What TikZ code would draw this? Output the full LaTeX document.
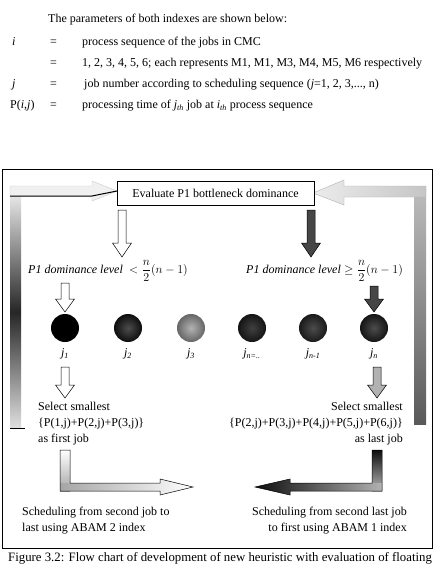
\documentclass[tikz,border=0pt]{standalone}
\usepackage{fontspec}
\setmainfont{Liberation Serif}
\usetikzlibrary{calc}
\newcommand{\subit}[2]{\textit{#1}\textsubscript{\textit{#2}}}
\newcommand{\DownArr}[5]{% x, ytop, headstart, ybot, style
  \path[#5] (#1-4,#2) -- (#1+4,#2) -- (#1+4,#3) -- (#1+9.5,#3) -- (#1,#4) -- (#1-9.5,#3) -- (#1-4,#3) -- cycle;}
\begin{document}
\begin{tikzpicture}[x=1pt,y=-1pt,
  txt/.style={font=\fontsize{12}{14}\selectfont, inner sep=0pt},
  hdr/.style={font=\fontsize{12}{14}\selectfont, inner sep=0pt, anchor=base west},
  evalbox/.style={draw, line width=0.6pt, minimum width=197pt, minimum height=24pt, inner sep=0pt, font=\fontsize{12}{14}\selectfont},
  ball/.style={circle, minimum size=28pt, inner sep=0pt},
  lightarr/.style={draw=black, line width=0.5pt, fill=white},
  darkarr/.style={draw=black, line width=0.5pt, fill=gray!55!black},
  midarr/.style={draw=black, line width=0.5pt, fill=gray!60}
]
\useasboundingbox (0,0) rectangle (436,564);
\fill[white] (0,0) rectangle (436,564);

% header definitions
\node[hdr] (h0) at (48,23) {The parameters of both indexes are shown below:};
\node[hdr] (h1a) at (12,46) {\textit{i}};
\node[hdr] (h1b) at (50,46) {=};
\node[hdr] (h1c) at (82,46) {process sequence of the jobs in CMC};
\node[hdr] (h2b) at (50,67) {=};
\node[hdr] (h2c) at (82,67) {1, 2, 3, 4, 5, 6; each represents M1, M1, M3, M4, M5, M6 respectively};
\node[hdr] (h3a) at (12,88) {\textit{j}};
\node[hdr] (h3b) at (50,88) {=};
\node[hdr] (h3c) at (84,88) {job number according to scheduling sequence (\textit{j}=1, 2, 3,..., n)};
\node[hdr] (h4a) at (10,109) {P(\textit{i},\textit{j})};
\node[hdr] (h4b) at (50,109) {=};
\node[hdr] (h4c) at (82,109) {processing time of \subit{j}{th} job at \subit{i}{th} process sequence};

% frame
\draw[line width=0.8pt] (2,169) rectangle (432,548);

% big left return arrow
\shade[top color=gray!20, bottom color=gray!25, middle color=black!85] (10,196) rectangle (21,428);
\path[fill=gray!12, draw=gray!40, line width=0.4pt] (10,186) -- (92,186) -- (92,181) -- (117,191) -- (92,201) -- (92,196) -- (10,196) -- cycle;
\draw[line width=1pt] (10,196) -- (92,196) -- (117,191);
\draw[line width=1pt] (10,428) -- (25,428);

% big right return arrow
\shade[top color=gray!55, bottom color=gray!70!black] (414,197) rectangle (426,424);
\path[left color=gray!15, right color=gray!45, draw=gray!60, line width=0.4pt] (426,186) -- (344,186) -- (344,180) -- (313,193) -- (344,205) -- (344,197) -- (426,197) -- cycle;

% evaluate box
\node[evalbox, fill=white] (eval) at (215.5,193) {Evaluate P1 bottleneck dominance};

% arrows from box
\DownArr{122}{210}{243}{257}{lightarr}
\DownArr{311}{210}{243}{257}{darkarr}

% conditions
\node[txt, anchor=west] (condL) at (28,271) {$\mathit{P1\ dominance\ level}\ < \displaystyle\frac{n}{2}(n-1)$};
\node[txt, anchor=west] (condR) at (246,271) {$\mathit{P1\ dominance\ level} \geq \displaystyle\frac{n}{2}(n-1)$};

% arrows to circles
\DownArr{65}{283}{299}{312}{lightarr}
\DownArr{374}{286}{299}{312}{darkarr}

% balls
\node[ball, fill=black] (c1) at (65,328) {};
\node[ball, inner color=black!70, outer color=black!95] (c2) at (128,328) {};
\node[ball, inner color=gray!60, outer color=gray!80!black] (c3) at (191,328) {};
\node[ball, inner color=black!75, outer color=black!92] (c4) at (252,328) {};
\node[ball, inner color=black!70, outer color=black!90] (c5) at (313,328) {};
\node[ball, inner color=black!70, outer color=black!92] (c6) at (374,328) {};

\node[txt] (l1) at (65,354) {\subit{j}{1}};
\node[txt] (l2) at (128,354) {\subit{j}{2}};
\node[txt] (l3) at (191,354) {\subit{j}{3}};
\node[txt] (l4) at (252,354) {\subit{j}{n=..}};
\node[txt] (l5) at (313,354) {\subit{j}{n-1}};
\node[txt] (l6) at (374,354) {\subit{j}{n}};

% arrows below
\DownArr{65}{367}{385}{398}{lightarr}
\DownArr{377}{367}{385}{398}{midarr}

% select texts
\node[txt, anchor=north west, align=left, font=\fontsize{12}{16}\selectfont] (selL) at (38,402) {Select smallest\\\{P(1,j)+P(2,j)+P(3,j)\}\\as first job};
\node[txt, anchor=north east, align=right, font=\fontsize{12}{16}\selectfont] (selR) at (403,402) {Select smallest\\\{P(2,j)+P(3,j)+P(4,j)+P(5,j)+P(6,j)\}\\as last job};

% bottom L arrows
\shade[top color=white, bottom color=gray!70] (60,450) rectangle (70,491);
\shade[left color=gray!70, right color=white] (60,483) -- (160,483) -- (160,479) -- (193,487) -- (160,495) -- (160,491) -- (60,491) -- cycle;
\draw[line width=0.5pt] (60,450) -- (70,450) -- (70,483) -- (160,483) -- (160,479) -- (193,487) -- (160,495) -- (160,491) -- (60,491) -- cycle;

\shade[top color=black!95, bottom color=gray!55] (372,450) rectangle (382,491);
\shade[left color=black!95, right color=gray!60] (382,483) -- (290,483) -- (290,479) -- (255,487) -- (290,495) -- (290,491) -- (382,491) -- cycle;
\draw[line width=0.5pt] (372,450) -- (382,450) -- (382,491) -- (290,491) -- (290,495) -- (255,487) -- (290,479) -- (290,483) -- (372,483) -- cycle;

% bottom texts
\node[txt, anchor=north west, align=left, font=\fontsize{12}{16}\selectfont] (schL) at (22,507) {Scheduling from second job to\\last using ABAM 2 index};
\node[txt, anchor=north east, align=right, font=\fontsize{12}{16}\selectfont] (schR) at (407,507) {Scheduling from second last job\\to first using ABAM 1 index};

% caption
\node[anchor=base west, inner sep=0pt, font=\fontsize{12.8}{14}\selectfont] (cap) at (8,561) {Figure 3.2: Flow chart of development of new heuristic with evaluation of floating};
\end{tikzpicture}
\end{document}
